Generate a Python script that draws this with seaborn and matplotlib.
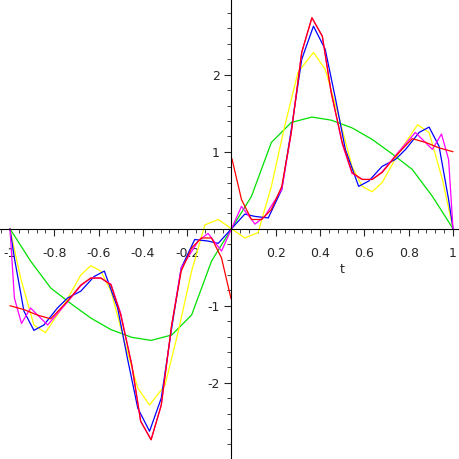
import numpy as np
import pandas as pd
import matplotlib
matplotlib.use("Agg")
import matplotlib.pyplot as plt
import seaborn as sns
from matplotlib.ticker import MultipleLocator

# values read for t >= 0; the curves are odd, so the left half is mirrored
red_t = [0.0, 0.002, 0.045, 0.09, 0.136, 0.18, 0.227, 0.27, 0.317, 0.363, 0.41, 0.45, 0.5, 0.544, 0.59, 0.635, 0.68, 0.74, 0.816, 0.877, 0.937, 1.0]
red_y = [0.0, 0.91, 0.38, 0.12, 0.12, 0.25, 0.55, 1.25, 2.29, 2.74, 2.5, 1.77, 1.12, 0.73, 0.64, 0.64, 0.73, 0.94, 1.17, 1.12, 1.05, 1.0]

mag_t = [0.0, 0.045, 0.106, 0.15, 0.227, 0.27, 0.317, 0.363, 0.41, 0.45, 0.5, 0.544, 0.59, 0.635, 0.68, 0.74, 0.83, 0.907, 0.948, 0.98, 1.0]
mag_y = [0.0, 0.29, 0.06, 0.16, 0.51, 1.25, 2.29, 2.74, 2.5, 1.77, 1.1, 0.72, 0.64, 0.64, 0.74, 0.95, 1.25, 1.03, 1.23, 0.9, 0.0]

blue_t = [0.0, 0.06, 0.106, 0.166, 0.227, 0.27, 0.317, 0.37, 0.423, 0.47, 0.514, 0.574, 0.62, 0.68, 0.74, 0.786, 0.847, 0.892, 0.937, 0.98, 1.0]
blue_y = [0.0, 0.19, 0.16, 0.14, 0.51, 1.29, 2.2, 2.63, 2.33, 1.68, 1.03, 0.55, 0.62, 0.81, 0.9, 1.03, 1.25, 1.32, 1.07, 0.38, 0.0]

yel_t = [0.0, 0.06, 0.12, 0.18, 0.24, 0.3, 0.37, 0.423, 0.484, 0.544, 0.59, 0.635, 0.68, 0.756, 0.84, 0.892, 0.952, 1.0]
yel_y = [0.0, -0.12, -0.05, 0.55, 1.33, 2.03, 2.29, 2.07, 1.46, 0.81, 0.55, 0.48, 0.6, 0.99, 1.35, 1.25, 0.64, 0.0]

grn_t = [0.0, 0.09, 0.18, 0.27, 0.363, 0.45, 0.544, 0.635, 0.726, 0.816, 0.907, 1.0]
grn_y = [0.0, 0.42, 1.12, 1.38, 1.45, 1.41, 1.31, 1.16, 0.97, 0.77, 0.42, 0.0]

curves = [
    ("approx 1", grn_t, grn_y, "#00e000"),
    ("approx 2", yel_t, yel_y, "#ffff00"),
    ("approx 3", blue_t, blue_y, "#0000ff"),
    ("approx 4", mag_t, mag_y, "#ff00ff"),
    ("f", red_t, red_y, "#ff0000"),
]


def mirrored(ts, ys):
    ts = np.array(ts)
    ys = np.array(ys)
    left_t = -ts[::-1]
    left_y = -ys[::-1]
    return left_t, left_y, ts, ys


fig = plt.figure(figsize=(4.59, 4.59), dpi=100)
ax = fig.add_axes([0, 0, 1, 1])
sns.set_style("white")

for name, ts, ys, col in curves:
    lt, ly, rt, ry = mirrored(ts, ys)
    if name == "f":
        # the function has a jump at t=0, draw both halves separately
        sns.lineplot(x=lt[:-1], y=ly[:-1], ax=ax, color=col, lw=0.9, sort=False)
        sns.lineplot(x=rt[1:], y=ry[1:], ax=ax, color=col, lw=0.9, sort=False)
    else:
        sns.lineplot(x=np.concatenate([lt, rt[1:]]), y=np.concatenate([ly, ry[1:]]),
                     ax=ax, color=col, lw=0.9, sort=False)

ax.set_xlim(-1.045, 1.027)
ax.set_ylim(-2.99, 2.97)
for s in ["top", "right"]:
    ax.spines[s].set_visible(False)
ax.spines["left"].set_position(("data", 0))
ax.spines["bottom"].set_position(("data", 0))
ax.spines["left"].set_linewidth(0.8)
ax.spines["bottom"].set_linewidth(0.8)

ax.xaxis.set_major_locator(MultipleLocator(0.2))
ax.xaxis.set_minor_locator(MultipleLocator(0.04))
ax.yaxis.set_major_locator(MultipleLocator(1))
ax.yaxis.set_minor_locator(MultipleLocator(0.2))
ax.tick_params(which="major", length=5, width=0.8, labelsize=9, direction="out")
ax.tick_params(which="minor", length=3, width=0.6, direction="out")
ax.tick_params(axis="x", pad=8)

xt = [-1, -0.8, -0.6, -0.4, -0.2, 0.2, 0.4, 0.6, 0.8, 1]
ax.set_xticks(xt)
ax.set_xticklabels(["-1", "-0.8", "-0.6", "-0.4", "-0.2", "0.2", "0.4", "0.6", "0.8", "1"])
ax.set_yticks([-2, -1, 1, 2])
ax.set_yticklabels(["-2", "-1", "1", "2"])
ax.text(0.5, -0.58, "t", fontsize=9, ha="center")

fig.savefig("out.png", dpi=100)
